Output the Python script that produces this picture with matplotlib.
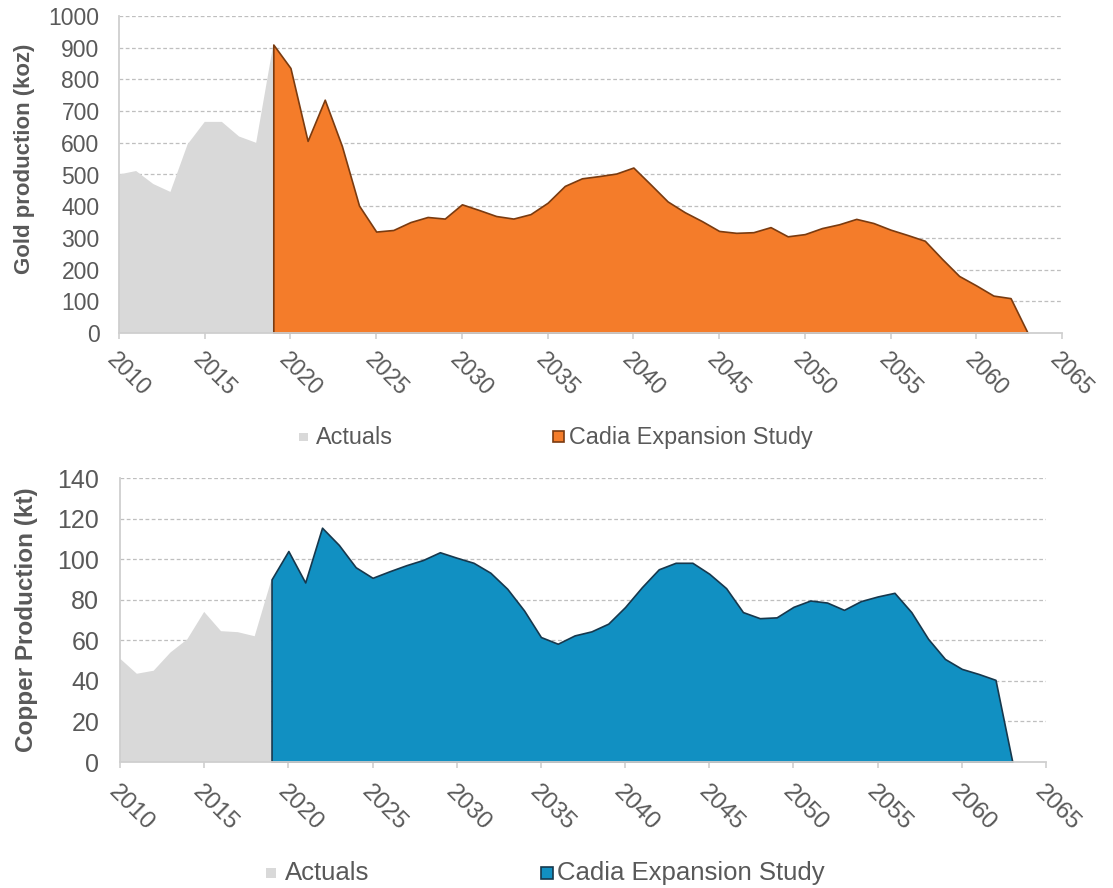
import matplotlib
matplotlib.use("Agg")
import matplotlib.pyplot as plt
from matplotlib.patches import Rectangle
from matplotlib.transforms import ScaledTranslation

plt.rcParams['font.family'] = ['Liberation Sans', 'DejaVu Sans']

# ---------------- data ----------------
actual_years = list(range(2010, 2020))
study_years = list(range(2019, 2064))

gold_actual = [500, 511, 470, 445, 595, 666, 666, 620, 600, 910]
gold_study = [910, 836, 606, 736, 590, 402, 320, 325, 350, 366,
              361, 406, 388, 369, 361, 375, 411, 464, 488, 495,
              503, 522, 469, 415, 381, 353, 322, 316, 318, 334,
              305, 312, 331, 343, 360, 347, 326, 309, 291, 234,
              180, 150, 118, 110, 0]

copper_actual = [51, 43.5, 45, 54, 60.5, 74, 64.5, 64, 62, 90]
copper_study = [90, 104, 88.5, 115.5, 107, 96, 90.8, 94, 97, 99.6,
                103.4, 100.7, 98.2, 93.3, 85.4, 74.7, 61.6, 58.3, 62.4, 64.4,
                68.2, 76.4, 86.2, 95, 98.2, 98.2, 92.8, 85.7, 73.9, 70.9,
                71.3, 76.5, 79.6, 78.6, 75, 79.3, 81.6, 83.4, 73.9, 60.7,
                50.8, 45.9, 43.4, 40.5, 0]

x_ticks = list(range(2010, 2066, 5))
gold_yticks = list(range(0, 1001, 100))
copper_yticks = list(range(0, 141, 20))
legend_labels = ["Actuals", "Cadia Expansion Study"]

GREY = "#D9D9D9"
ORANGE = "#F47C2A"
ORANGE_EDGE = "#7A3B10"
BLUE = "#1190C2"
BLUE_EDGE = "#17384D"
TXT = "#595959"
AXC = "#CFCFCF"
GRID = "#BFBFBF"

W, H = 1113, 888
fig = plt.figure(figsize=(W / 100, H / 100), dpi=100)


def px_axes(l, t, r, b):
    return fig.add_axes([l / W, 1 - b / H, (r - l) / W, (b - t) / H])


def style(ax, yticks, yfs, xfs, xpad, ypad, dx):
    ax.set_xlim(2010, 2065)
    ax.set_ylim(yticks[0], yticks[-1])
    ax.set_xticks(x_ticks)
    ax.set_yticks(yticks)
    ax.set_xticklabels([str(v) for v in x_ticks], rotation=-45, ha='left',
                       va='top', rotation_mode='anchor')
    off = ScaledTranslation(dx / 100, 0, fig.dpi_scale_trans)
    for lab in ax.get_xticklabels():
        lab.set_transform(lab.get_transform() + off)
    for s in ['top', 'right']:
        ax.spines[s].set_visible(False)
    for s in ['left', 'bottom']:
        ax.spines[s].set_color(AXC)
        ax.spines[s].set_linewidth(1.3)
        ax.spines[s].set_zorder(5)
    ax.tick_params(axis='y', length=0, pad=ypad, labelsize=yfs, labelcolor=TXT)
    ax.tick_params(axis='x', length=4, width=1.2, color=AXC, pad=xpad,
                   labelsize=xfs, labelcolor=TXT, direction='out')
    for yv in yticks[1:]:
        ax.axhline(yv, color=GRID, lw=0.9, ls=(0, (3, 2)), zorder=0.5)


# ---------------- gold ----------------
ax1 = px_axes(119, 16, 1062, 333)
ax1.fill_between(actual_years, 0, gold_actual, facecolor=GREY, edgecolor='none', zorder=1)
ax1.fill_between(study_years, 0, gold_study, facecolor=ORANGE, edgecolor=ORANGE_EDGE,
                 linewidth=1.2, zorder=2)
style(ax1, gold_yticks, 16.5, 16.5, 7, 14, 3)
ax1.set_ylabel("Gold production (koz)", fontsize=16, fontweight='bold', color=TXT)
ax1.yaxis.set_label_coords(-0.089, 0.55)

# ---------------- copper ----------------
ax2 = px_axes(120, 478, 1046, 762)
ax2.fill_between(actual_years, 0, copper_actual, facecolor=GREY, edgecolor='none', zorder=1)
ax2.fill_between(study_years, 0, copper_study, facecolor=BLUE, edgecolor=BLUE_EDGE,
                 linewidth=1.2, zorder=2)
style(ax2, copper_yticks, 18, 17.5, 10, 15, 0)
ax2.set_ylabel("Copper Production (kt)", fontsize=17.5, fontweight='bold', color=TXT)
ax2.yaxis.set_label_coords(-0.089, 0.5)


# ---------------- legends ----------------
def legend_item(x_box, y_c, size, face, edge, x_text, label, fs):
    fig.add_artist(Rectangle((x_box / W, 1 - (y_c + size / 2) / H), size / W, size / H,
                             transform=fig.transFigure, facecolor=face,
                             edgecolor=edge, linewidth=1.2 if edge != 'none' else 0))
    fig.text(x_text / W, 1 - y_c / H, label, ha='left', va='center',
             fontsize=fs, color=TXT)


legend_item(299, 437, 9, GREY, 'none', 316, legend_labels[0], 16.8)
legend_item(553, 437, 11, ORANGE, ORANGE_EDGE, 569, legend_labels[1], 16.8)
legend_item(266, 873, 10, GREY, 'none', 285, legend_labels[0], 18.5)
legend_item(541, 873, 12, BLUE, BLUE_EDGE, 557, legend_labels[1], 18.5)

fig.savefig("out.png", dpi=100)
